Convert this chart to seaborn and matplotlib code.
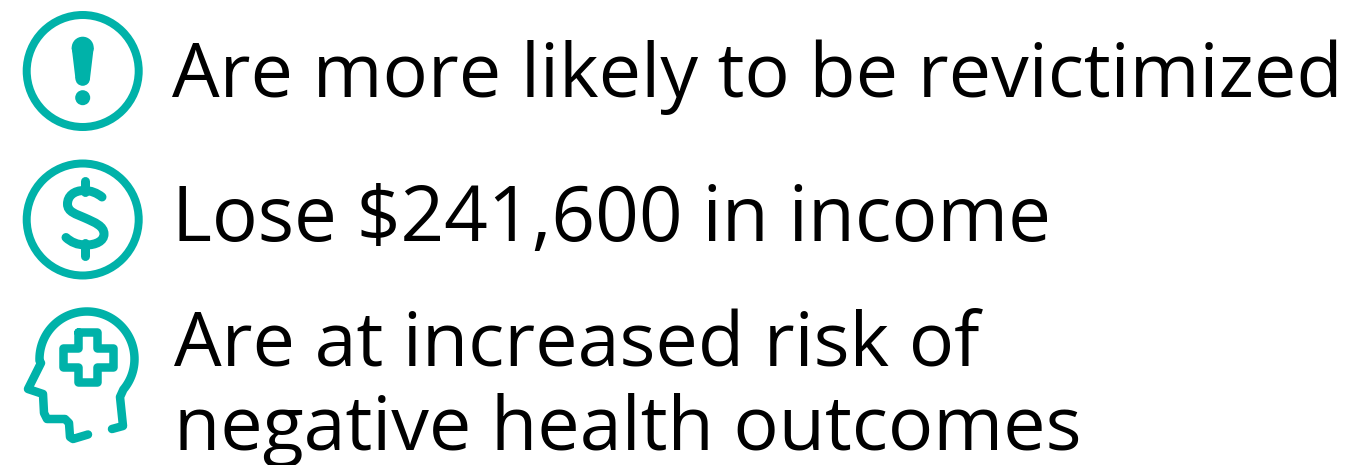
import numpy as np
import matplotlib
matplotlib.use("Agg")
import matplotlib.pyplot as plt
from matplotlib.patches import Circle, PathPatch, Polygon
from matplotlib.path import Path
import seaborn as sns

# text lines and where they sit (pixels)
lines = ["Are more likely to be revictimized", "Lose $241,600 in income",
         "Are at increased risk of", "negative health outcomes"]
line_x = [172, 172, 174, 174]
line_y = [97, 241, 365, 450]
line_size = [54.3, 55, 54.3, 54.3]

teal = "#00b2a9"

# icon outlines, pixels
dollar_s = [(102, 197), (97, 193), (91, 190.5), (84, 190.5), (74, 190.5), (67.5, 196), (67.5, 204),
            (67.5, 212), (76, 214), (85, 218), (95, 222.5), (104, 226), (104, 234),
            (104, 241), (96, 245), (86, 245), (77, 245), (71, 242), (66, 237.5)]
head_front = [(112, 429), (123, 426), (120, 397)]
head_back = [(41, 363), (28, 389), (43, 394), (44, 413), (47, 419), (65, 419), (69, 423),
             (70, 437), (73, 439), (88, 434.5)]
cross = [(78, 332), (97, 332), (97, 348), (113, 348), (113, 367), (97, 367), (97, 382),
         (78, 382), (78, 367), (63, 367), (63, 348), (78, 348), (78, 332)]

sns.set_theme(style="white")
plt.rcParams['font.family'] = ['Open Sans', 'DejaVu Sans']

fig = plt.figure(figsize=(13.53, 4.65), dpi=100)
ax = fig.add_axes([0, 0, 1, 1])
ax.set_xlim(0, 1353)
ax.set_ylim(465, 0)
ax.axis("off")

lw = 8 * 72 / 100


def stroke(pts, width=lw):
    pts = np.array(pts)
    sns.lineplot(x=pts[:, 0], y=pts[:, 1], sort=False, estimator=None, color=teal, linewidth=width,
                 solid_capstyle="round", solid_joinstyle="round", ax=ax)


# exclamation icon
ax.add_patch(Circle((82.7, 71), 56, fill=False, ec=teal, lw=lw))
ax.add_patch(Circle((82.7, 47.7), 11, fc=teal, ec="none"))
ax.add_patch(Circle((82.7, 78.5), 7.3, fc=teal, ec="none"))
ax.add_patch(Polygon([(71.7, 47.7), (93.7, 47.7), (90, 78.5), (75.4, 78.5)], fc=teal, ec="none"))
ax.add_patch(Circle((82.7, 97.7), 7.5, fc=teal, ec="none"))

# dollar icon
ax.add_patch(Circle((82.7, 219.5), 56, fill=False, ec=teal, lw=lw))
codes = [Path.MOVETO] + [Path.CURVE4] * (len(dollar_s) - 1)
ax.add_patch(PathPatch(Path(dollar_s, codes), fill=False, ec=teal, lw=9 * 72 / 100, capstyle="round"))
stroke([(85, 181), (85, 192)], width=9 * 72 / 100)
stroke([(85, 243), (85, 256)], width=9 * 72 / 100)

# head icon
ang = np.radians(np.linspace(-40, 182, 80))
arc = np.column_stack([87 + 47.5 * np.cos(ang), 359 - 47.5 * np.sin(ang)])
stroke(head_front + [tuple(p) for p in arc] + head_back, width=8.5 * 72 / 100)
stroke(cross, width=8.5 * 72 / 100)

for s, x, y, fs in zip(lines, line_x, line_y, line_size):
    ax.text(x, y, s, fontsize=fs, color="black", ha="left", va="baseline")

fig.savefig("out.png", dpi=100)
